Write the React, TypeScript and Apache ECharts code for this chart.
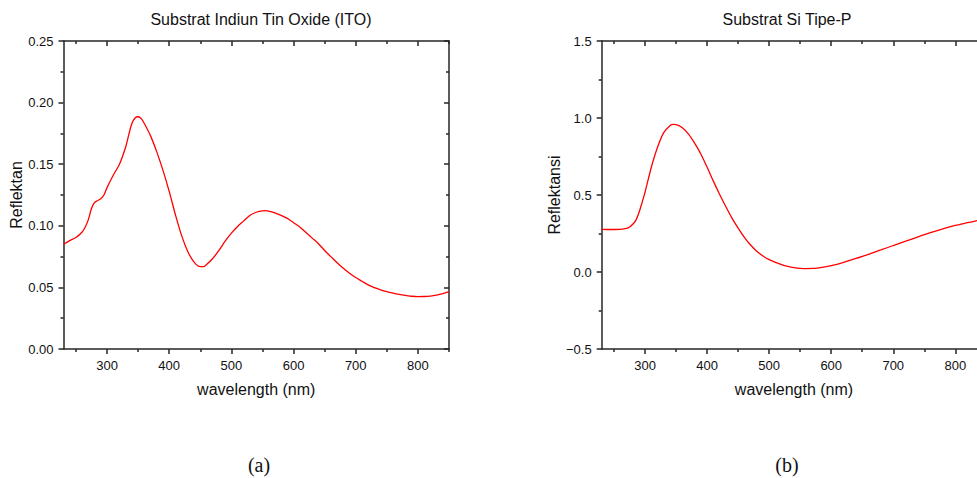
import React, { useEffect, useRef } from "react";
import * as echarts from "echarts";

// ---- Data: (a) Substrat ITO ----
const wavelengthA = [230, 240, 250, 260, 265, 270, 275, 280, 285, 290, 295, 300, 310, 320, 330, 335, 340, 345, 350, 355, 360, 370, 380, 390, 400, 410, 420, 430, 440, 450, 455, 460, 470, 480, 490, 500, 510, 520, 530, 540, 550, 555, 560, 570, 580, 590, 600, 610, 620, 630, 640, 650, 660, 670, 680, 690, 700, 710, 720, 730, 740, 750, 760, 770, 780, 790, 800, 810, 820, 830, 840, 850];
const reflectA = [0.085, 0.088, 0.0905, 0.095, 0.099, 0.105, 0.114, 0.119, 0.1205, 0.122, 0.125, 0.131, 0.141, 0.15, 0.164, 0.174, 0.183, 0.1875, 0.1885, 0.187, 0.183, 0.173, 0.16, 0.145, 0.128, 0.109, 0.092, 0.079, 0.0705, 0.0668, 0.0668, 0.0685, 0.0735, 0.08, 0.0875, 0.094, 0.0995, 0.104, 0.1085, 0.111, 0.1122, 0.1123, 0.112, 0.1105, 0.1085, 0.106, 0.1025, 0.099, 0.0945, 0.09, 0.0855, 0.08, 0.075, 0.07, 0.0655, 0.0615, 0.058, 0.055, 0.052, 0.0498, 0.048, 0.0465, 0.0453, 0.0443, 0.0435, 0.0428, 0.0425, 0.0426, 0.043, 0.0438, 0.045, 0.0466];

// ---- Data: (b) Substrat Si Tipe-P ----
const wavelengthB = [230, 240, 250, 260, 270, 275, 280, 285, 290, 295, 300, 310, 320, 330, 340, 345, 350, 360, 370, 380, 390, 400, 410, 420, 430, 440, 450, 460, 470, 480, 490, 500, 510, 520, 530, 540, 550, 560, 570, 580, 590, 600, 620, 640, 660, 680, 700, 720, 740, 760, 780, 800, 820, 840];
const reflectB = [0.277, 0.276, 0.276, 0.277, 0.283, 0.292, 0.31, 0.335, 0.385, 0.45, 0.52, 0.68, 0.81, 0.905, 0.95, 0.958, 0.957, 0.937, 0.895, 0.835, 0.765, 0.68, 0.59, 0.505, 0.425, 0.35, 0.285, 0.225, 0.175, 0.135, 0.104, 0.08, 0.062, 0.048, 0.037, 0.029, 0.024, 0.022, 0.023, 0.027, 0.033, 0.041, 0.063, 0.088, 0.115, 0.143, 0.172, 0.2, 0.228, 0.255, 0.28, 0.302, 0.32, 0.338];

// ---- Ticks ----
const xMajorTicks = [300, 400, 500, 600, 700, 800];
const xMinorTicks = [250, 350, 450, 550, 650, 750, 850];
const yMajorTicksA = [0, 0.05, 0.1, 0.15, 0.2, 0.25];
const yMinorTicksA = [0.025, 0.075, 0.125, 0.175, 0.225];
const yMajorTicksB = [-0.5, 0, 0.5, 1.0, 1.5];
const yMinorTicksB = [-0.25, 0.25, 0.75, 1.25];

const titleA = "Substrat Indiun Tin Oxide (ITO)";
const titleB = "Substrat Si Tipe-P";
const xName = "wavelength (nm)";
const yNameA = "Reflektan";
const yNameB = "Reflektansi";

const AXIS_COLOR = "#262626";
const FONT = "'Liberation Sans', Arial, sans-serif";

function buildAxes(
  kind: "x" | "y",
  gridIndex: number,
  min: number,
  max: number,
  majors: number[],
  minors: number[],
  name: string,
  fmt: (v: number) => string
) {
  const pos1 = kind === "x" ? "bottom" : "left";
  const pos2 = kind === "x" ? "top" : "right";
  const base = {
    type: "value",
    gridIndex,
    min,
    max,
    splitLine: { show: false },
    axisLine: { show: false, onZero: false, lineStyle: { color: AXIS_COLOR, width: 1.5 } },
    axisLabel: { show: false },
  };
  const main: any = {
    ...base,
    position: pos1,
    axisLine: { show: true, onZero: false, lineStyle: { color: AXIS_COLOR, width: 1.5 } },
    axisTick: { show: true, inside: false, length: 5, customValues: majors, lineStyle: { color: AXIS_COLOR, width: 1.5 } },
    axisLabel: {
      show: true,
      customValues: majors,
      margin: 10,
      color: "#111",
      fontSize: 13,
      fontFamily: FONT,
      formatter: (v: number) => fmt(v),
    },
    name,
    nameLocation: "middle",
    nameGap: kind === "x" ? 32 : 39,
    nameTextStyle: { fontSize: 16, color: "#111", fontFamily: FONT },
  };
  const minor: any = {
    ...base,
    position: pos1,
    axisTick: { show: true, inside: false, length: 3, customValues: minors, lineStyle: { color: AXIS_COLOR, width: 1.5 } },
  };
  const opp: any = {
    ...base,
    position: pos2,
    axisLine: { show: true, onZero: false, lineStyle: { color: AXIS_COLOR, width: 1.5 } },
    axisTick: { show: true, inside: true, length: 5, customValues: majors, lineStyle: { color: AXIS_COLOR, width: 1.5 } },
  };
  const oppMinor: any = {
    ...base,
    position: pos2,
    axisTick: { show: true, inside: true, length: 3, customValues: minors, lineStyle: { color: AXIS_COLOR, width: 1.5 } },
  };
  return [main, minor, opp, oppMinor];
}

export default function App() {
  const ref = useRef<HTMLDivElement>(null);

  useEffect(() => {
    if (!ref.current) return;
    const chart = echarts.init(ref.current, null, { renderer: "svg" });

    const fmtA = (v: number) => v.toFixed(2);
    const fmtB = (v: number) => (v < 0 ? "\u2212" + Math.abs(v).toFixed(1) : v.toFixed(1));
    const fmtX = (v: number) => String(v);

    const xAxes = [
      ...buildAxes("x", 0, 230, 850, xMajorTicks, xMinorTicks, xName, fmtX),
      ...buildAxes("x", 1, 230, 850, xMajorTicks, xMinorTicks, xName, fmtX),
    ];
    const yAxes = [
      ...buildAxes("y", 0, 0, 0.25, yMajorTicksA, yMinorTicksA, yNameA, fmtA),
      ...buildAxes("y", 1, -0.5, 1.5, yMajorTicksB, yMinorTicksB, yNameB, fmtB),
    ];

    const serif = "'Liberation Serif', 'Times New Roman', serif";

    const option: any = {
      animation: false,
      backgroundColor: "#ffffff",
      title: [
        {
          text: titleA,
          left: 256,
          top: 6,
          textAlign: "center",
          textStyle: { fontSize: 16, fontWeight: "normal", color: "#111", fontFamily: FONT },
        },
        {
          text: titleB,
          left: 782,
          top: 6,
          textAlign: "center",
          textStyle: { fontSize: 16, fontWeight: "normal", color: "#111", fontFamily: FONT },
        },
        {
          text: "(a)",
          left: 254,
          top: 450,
          textAlign: "center",
          textStyle: { fontSize: 20, fontWeight: "normal", color: "#111", fontFamily: serif },
        },
        {
          text: "(b)",
          left: 782,
          top: 450,
          textAlign: "center",
          textStyle: { fontSize: 20, fontWeight: "normal", color: "#111", fontFamily: serif },
        },
      ],
      grid: [
        { left: 63.5, top: 41, width: 385.5, height: 308, containLabel: false, outerBoundsMode: "none" },
        { left: 601.7, top: 41, width: 384.6, height: 308, containLabel: false, outerBoundsMode: "none" },
      ],
      xAxis: xAxes,
      yAxis: yAxes,
      series: [
        {
          type: "line",
          xAxisIndex: 0,
          yAxisIndex: 0,
          data: wavelengthA.map((w, i) => [w, reflectA[i]]),
          showSymbol: false,
          smooth: 0.3,
          lineStyle: { color: "#ff0000", width: 1.3 },
          itemStyle: { color: "#ff0000" },
        },
        {
          type: "line",
          xAxisIndex: 4,
          yAxisIndex: 4,
          data: wavelengthB.map((w, i) => [w, reflectB[i]]),
          showSymbol: false,
          smooth: 0.3,
          lineStyle: { color: "#ff0000", width: 1.3 },
          itemStyle: { color: "#ff0000" },
        },
      ],
    };

    chart.setOption(option);
    return () => chart.dispose();
  }, []);

  return (
    <div
      ref={ref}
      style={{ position: "absolute", left: 0, top: 0, width: 977, height: 478, overflow: "hidden", background: "#fff" }}
    />
  );
}
